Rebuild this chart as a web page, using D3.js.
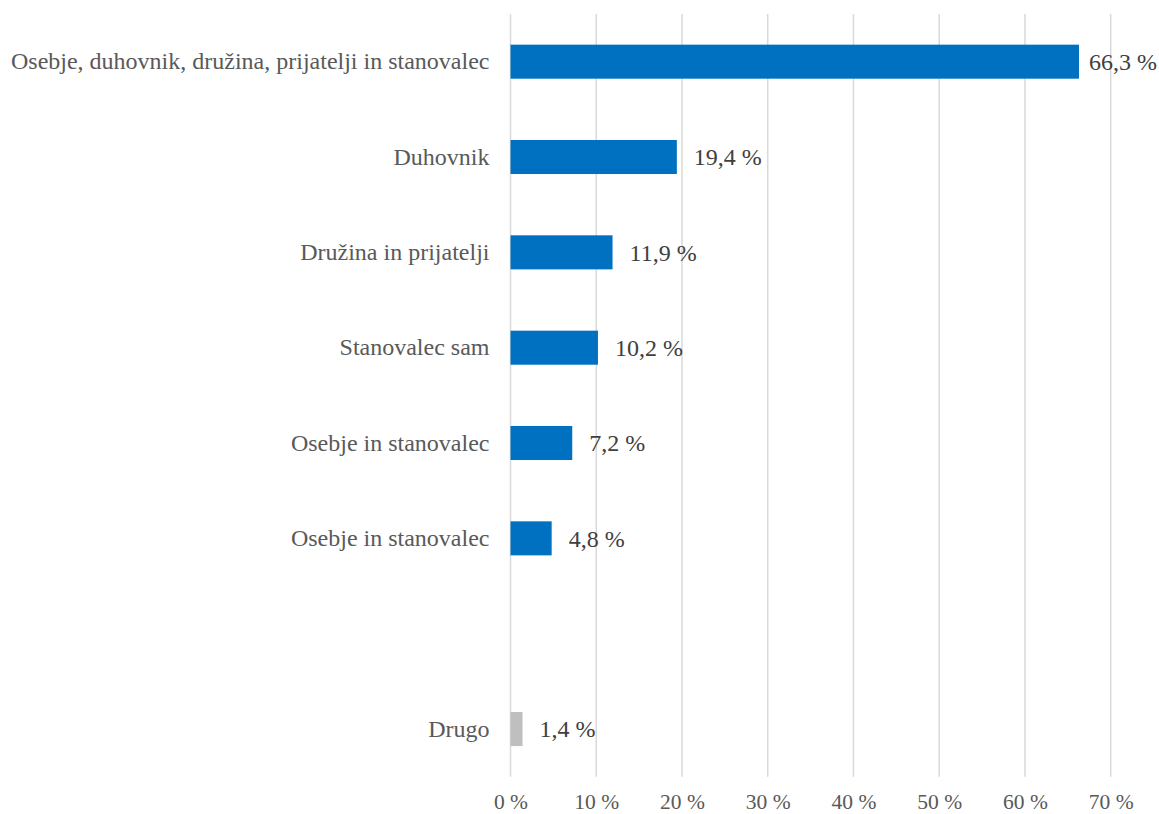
<!DOCTYPE html>
<html>
<head>
<meta charset="utf-8">
<script src="https://cdn.jsdelivr.net/npm/d3@7"></script>
<style>
  html, body { margin: 0; padding: 0; background: #fff; overflow: hidden; }
  svg { display: block; }
  text { font-family: "Liberation Serif", "Times New Roman", serif; }
</style>
</head>
<body>
<script>
// Category order from top to bottom; the empty slot keeps a gap before "Drugo".
const categories = [
  "Osebje, duhovnik, družina, prijatelji in stanovalec",
  "Duhovnik",
  "Družina in prijatelji",
  "Stanovalec sam",
  "Osebje in stanovalec",
  "Osebje in stanovalec",
  "",
  "Drugo"
];
const values = [66.3, 19.4, 11.9, 10.2, 7.2, 4.8, null, 1.4];
const valueLabels = ["66,3 %", "19,4 %", "11,9 %", "10,2 %", "7,2 %", "4,8 %", "", "1,4 %"];
const barColors = ["#0070C0", "#0070C0", "#0070C0", "#0070C0", "#0070C0", "#0070C0", "#0070C0", "#BFBFBF"];
const tickValues = [0, 10, 20, 30, 40, 50, 60, 70];
const tickLabels = ["0 %", "10 %", "20 %", "30 %", "40 %", "50 %", "60 %", "70 %"];

const W = 1159, H = 814;
const margin = { top: 14, right: 48.3, bottom: 37.3, left: 510.5 };
const innerW = W - margin.left - margin.right;
const innerH = H - margin.top - margin.bottom;
const FONT = "'Liberation Serif', 'Times New Roman', serif";

const svg = d3.select("body").append("svg").attr("width", W).attr("height", H);
const g = svg.append("g").attr("transform", `translate(${margin.left},${margin.top})`);

const x = d3.scaleLinear().domain([0, 70]).range([0, innerW]);
const y = d3.scaleBand().domain(d3.range(categories.length)).range([0, innerH])
  .paddingInner(0.643).paddingOuter(0.3215);

// vertical gridlines
g.selectAll("line.grid").data(tickValues).enter().append("line")
  .attr("class", "grid")
  .attr("x1", d => x(d)).attr("x2", d => x(d))
  .attr("y1", 0).attr("y2", innerH)
  .attr("stroke", "#D9D9D9").attr("stroke-width", 1.5);

// x axis labels
const xAxis = d3.axisBottom(x).tickValues(tickValues)
  .tickFormat((d, i) => tickLabels[i]).tickSize(0).tickPadding(0);
const ax = g.append("g").attr("transform", `translate(0,${innerH})`).call(xAxis);
ax.select(".domain").remove();
ax.selectAll("text")
  .attr("y", 32.5).attr("dy", null)
  .attr("fill", "#595959").style("font-size", "21.5px")
  .style("font-family", FONT);

// y axis category labels
const yAxis = d3.axisLeft(y).tickFormat(i => categories[i]).tickSize(0).tickPadding(21);
const ay = g.append("g").call(yAxis);
ay.select(".domain").remove();
ay.selectAll("text")
  .attr("fill", "#595959").style("font-size", "24px")
  .style("font-family", FONT);

const rows = d3.range(categories.length).filter(i => values[i] != null);

// bars
g.selectAll("rect.bar").data(rows).enter().append("rect")
  .attr("class", "bar")
  .attr("x", x(0))
  .attr("y", i => y(i))
  .attr("width", i => x(values[i]) - x(0))
  .attr("height", y.bandwidth())
  .attr("fill", i => barColors[i]);

// value labels, pulled in when they would run past the right edge
const maxRight = W - margin.left - 2;
g.selectAll("text.val").data(rows).enter().append("text")
  .attr("class", "val")
  .attr("y", i => y(i) + y.bandwidth() / 2)
  .attr("dy", "0.35em")
  .attr("fill", "#404040")
  .style("font-size", "24px")
  .style("font-family", FONT)
  .text(i => valueLabels[i])
  .attr("x", function(i) {
    const w = this.getComputedTextLength();
    return Math.min(x(values[i]) + 17, maxRight - w);
  });
</script>
</body>
</html>
